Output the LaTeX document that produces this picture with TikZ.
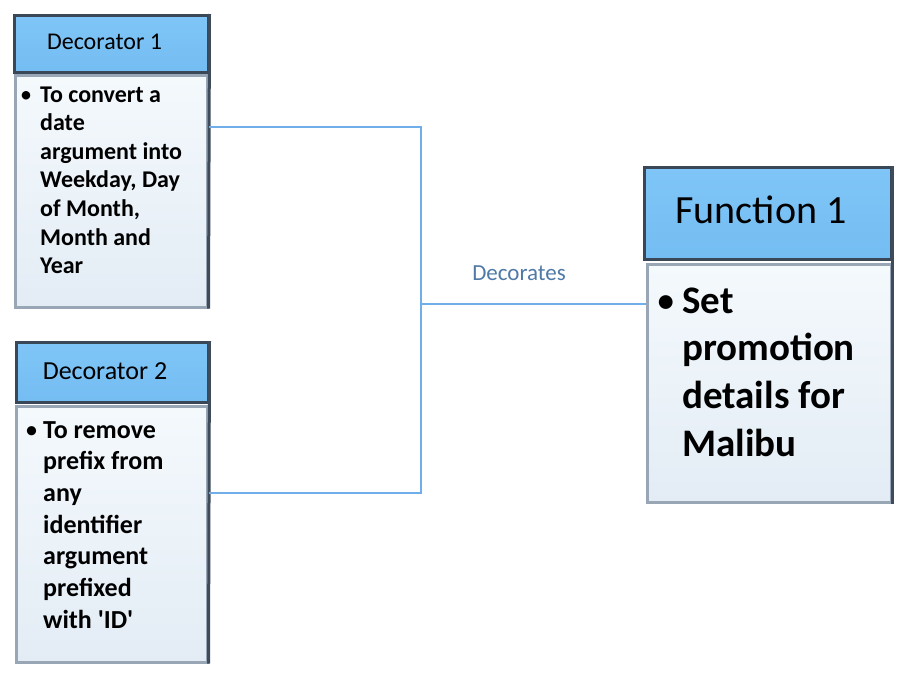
\documentclass[tikz,border=0pt]{standalone}
\usepackage{fontspec}
\setmainfont{Carlito}[Ligatures=TeXOff]
\definecolor{hdrfill}{HTML}{7FC5F7}
\definecolor{hdrfillb}{HTML}{74BDF2}
\definecolor{hdrborder}{HTML}{3A4756}
\definecolor{bodytop}{HTML}{F4F9FC}
\definecolor{bodybot}{HTML}{E3ECF5}
\definecolor{bodyborder}{HTML}{98A6B6}
\definecolor{edgedark}{HTML}{3E4B5A}
\definecolor{conncol}{HTML}{6FAEE8}
\definecolor{labcol}{HTML}{4F79A6}
\newcommand{\firstbase}[1]{\begin{tabular}[t]{@{}l@{}}#1\end{tabular}}
\tikzset{
  hdr/.style={draw=hdrborder, line width=2.5pt, top color=hdrfill, bottom color=hdrfillb, inner sep=0pt, anchor=north west},
  bodybox/.style={draw=bodyborder, line width=2.5pt, top color=bodytop, bottom color=bodybot, inner sep=0pt, anchor=north west},
  edge/.style={draw=edgedark, line width=3pt},
  conn/.style={draw=conncol, line width=1.2pt},
  btext/.style={anchor=base west, inner sep=0pt},
}
\begin{document}
\begin{tikzpicture}[x=1pt,y=-1pt]
\useasboundingbox (0,0) rectangle (899,672);
% Decorator 1
\node[hdr, minimum width=194pt, minimum height=57pt] (h1) at (13,14) {};
\node[font=\fontsize{24}{29}\selectfont] (h1t) at (104.5,42) {Decorator 1};
\node[bodybox, minimum width=192pt, minimum height=232pt] (b1) at (14,74) {};
\draw[edge] (h1.north east) -- (b1.south east);
\node[btext, font=\fontsize{24}{28.6}\selectfont] (bu1) at (20,102) {\textbullet};
\node[btext, font=\fontsize{24}{28.6}\selectfont\bfseries] (t1) at (40,102) {\firstbase{To convert a\\date\\argument into\\Weekday, Day\\of Month,\\Month and\\Year}};
% Decorator 2
\node[hdr, minimum width=192pt, minimum height=60pt] (h2) at (15,341) {};
\node[font=\fontsize{26}{31}\selectfont] (h2t) at (105,371) {Decorator 2};
\node[bodybox, minimum width=191pt, minimum height=256pt] (b2) at (15,405) {};
\draw[edge] (h2.north east) -- (b2.south east);
\node[btext, font=\fontsize{26}{31.7}\selectfont] (bu2) at (25,438) {\textbullet};
\node[btext, font=\fontsize{26}{31.7}\selectfont\bfseries] (t2) at (43,438) {\firstbase{To remove\\prefix from\\any\\identifier\\argument\\prefixed\\with 'ID'}};
% Function 1
\node[hdr, minimum width=247pt, minimum height=92pt] (hf) at (643,166) {};
\node[font=\fontsize{40}{48}\selectfont] (hft) at (761,210) {Function 1};
\node[bodybox, minimum width=244pt, minimum height=238pt] (bf) at (646,263) {};
\draw[edge] (hf.north east) -- (bf.south east);
\node[btext, font=\fontsize{39}{47.7}\selectfont] (buf) at (656,313) {\textbullet};
\node[btext, font=\fontsize{39}{47.7}\selectfont\bfseries] (tf) at (682,313) {\firstbase{Set\\promotion\\details for\\Malibu}};
% connectors
\coordinate (j) at (421,304);
\draw[conn] (b1.north east) ++(0,53) -| (j);
\draw[conn] (b2.north east) ++(0,88) -| (j);
\draw[conn] (j) -- (j -| bf.west);
\node[text=labcol, font=\fontsize{23}{27}\selectfont] (lab) at (519,273) {Decorates};
\end{tikzpicture}
\end{document}
